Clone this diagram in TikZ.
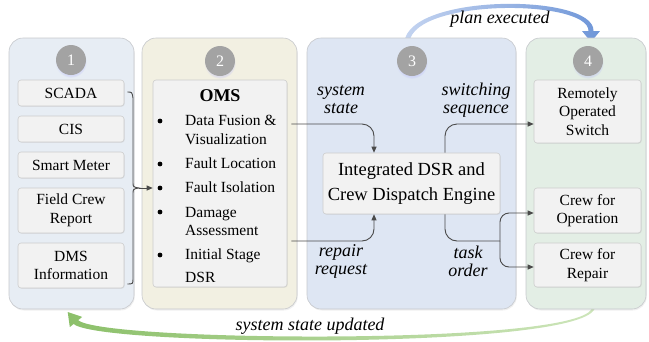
\documentclass[tikz,border=0pt]{standalone}
\usepackage{fontspec}
\setmainfont{Liberation Serif}
\usetikzlibrary{shadows,arrows.meta,calc}

\definecolor{panelline}{HTML}{C6C8CC}
\definecolor{pOne}{HTML}{E7EDF4}
\definecolor{pTwo}{HTML}{F2F0E2}
\definecolor{pThree}{HTML}{DEE6F3}
\definecolor{pFour}{HTML}{E3EEE5}
\definecolor{boxfill}{HTML}{F2F2F2}
\definecolor{boxline}{HTML}{CDCDCD}
\definecolor{numfill}{HTML}{A3A3A3}
\definecolor{connc}{HTML}{4A4A4A}
\definecolor{blueA}{HTML}{C7D6F1}
\definecolor{blueB}{HTML}{6F96D8}
\definecolor{greenA}{HTML}{8CC06A}
\definecolor{greenB}{HTML}{CDE5BA}

\newcommand\bxfont{\fontsize{15.5}{18.5}\selectfont}
\newcommand\lbfont{\fontsize{18}{18}\selectfont\itshape}
\newcommand\nmfont{\fontsize{16}{18}\selectfont}
\newcommand\engfont{\fontsize{18.5}{25}\selectfont}

\begin{document}
\begin{tikzpicture}[x=1pt,y=-1pt,
  panel/.style={draw=panelline, line width=0.6pt, rounded corners=14pt,
    drop shadow={opacity=0.12, shadow xshift=0.8pt, shadow yshift=-1.5pt}},
  bx/.style={draw=boxline, fill=boxfill, line width=0.6pt, rounded corners=3pt,
    align=center, font=\bxfont, inner sep=0pt,
    drop shadow={opacity=0.12, shadow xshift=0.8pt, shadow yshift=-0.8pt}},
  num/.style={circle, fill=numfill, text=white, minimum size=30pt, inner sep=0pt,
    font=\nmfont, circular drop shadow={fill=blue!35, opacity=0.25,
    shadow xshift=0pt, shadow yshift=-2pt, shadow scale=1.05}},
  conn/.style={draw=connc, line width=0.9pt},
  arr/.style={conn, -{Triangle[length=6pt,width=5pt]}},
  lbl/.style={font=\lbfont, align=center}]

\useasboundingbox (0,0) rectangle (649,341);

% upper feedback arrow: plan executed
\shade[left color=blueA, right color=blueB]
  (404.5,47) .. controls (397,-7) and (595,-8) .. (593.5,31)
  -- (600,31) -- (591,42) -- (582,31) -- (588.5,31)
  .. controls (589,-2) and (402,-2) .. (409.5,47) -- cycle;

% lower feedback arrow: system state updated
\shade[left color=greenA, right color=greenB]
  (591.5,309) .. controls (573.5,346) and (99,341.5) .. (78.3,320.1)
  -- (82.2,316.9) -- (67.7,312) -- (69.8,327.1) -- (73.7,323.9)
  .. controls (97,346.5) and (576.5,350) .. (594.5,309) -- cycle;

% the four stage panels
\node[panel, fill=pOne,   minimum width=125pt, minimum height=271pt] (p1) at (71.5,173.5) {};
\node[panel, fill=pTwo,   minimum width=155pt, minimum height=271pt] (p2) at (219.5,173.5) {};
\node[panel, fill=pThree, minimum width=209pt, minimum height=271pt] (p3) at (411.5,173.5) {};
\node[panel, fill=pFour,  minimum width=120pt, minimum height=271pt] (p4) at (586,173.5) {};

% stage numbers
\node[num] (c1) at (71,60) {1};
\node[num] (c2) at (220,61) {2};
\node[num] (c3) at (412,61) {3};
\node[num] (c4) at (588,61) {4};

% data sources
\node[bx, minimum width=106pt, minimum height=26pt] (scada) at (71,93) {SCADA};
\node[bx, minimum width=106pt, minimum height=26pt] (cis) at (71,129) {CIS};
\node[bx, minimum width=106pt, minimum height=26pt] (meter) at (71,165) {Smart Meter};
\node[bx, minimum width=106pt, minimum height=45pt] (crew) at (71,210.5) {Field Crew\\Report};
\node[bx, minimum width=106pt, minimum height=45pt] (dms) at (71,265.5) {DMS\\Information};

% OMS
\node[bx, minimum width=134pt, minimum height=207pt] (oms) at (220,183.5) {};
\node[font=\fontsize{18}{20}\selectfont\bfseries] (omst) at (220,96) {OMS};
\foreach \y in {121,164,188,212,255} \fill (160,\y) circle (2.4pt);
\node[font=\bxfont, align=left, anchor=west, inner sep=0pt] (i1) at (185,130) {Data Fusion \&\\Visualization};
\node[font=\bxfont, align=left, anchor=west, inner sep=0pt] (i2) at (185,163.5) {Fault Location};
\node[font=\bxfont, align=left, anchor=west, inner sep=0pt] (i3) at (185,187.5) {Fault Isolation};
\node[font=\bxfont, align=left, anchor=west, inner sep=0pt] (i4) at (185,221.5) {Damage\\Assessment};
\node[font=\bxfont, align=left, anchor=west, inner sep=0pt] (i5) at (185,266) {Initial Stage\\[4.5pt]DSR};

% engine
\node[bx, font=\engfont, minimum width=177pt, minimum height=61pt] (engine) at (411.5,183.5)
  {Integrated DSR and\\Crew Dispatch Engine};

% field actions
\node[bx, minimum width=107pt, minimum height=63pt] (ros) at (587.5,111.5) {Remotely\\Operated\\Switch};
\node[bx, minimum width=107pt, minimum height=45pt] (crop) at (587.5,210.5) {Crew for\\Operation};
\node[bx, minimum width=107pt, minimum height=44pt] (crrep) at (587.5,265) {Crew for\\Repair};

% brace gathering the data sources
\coordinate (bmid) at (139,188);
\draw[conn] ($(scada.east)+(3,-1)$) .. controls (132,92) .. (133,98) -- (133,182)
  .. controls (133,187) .. (bmid) .. controls (133,189) .. (133,194) -- (133,278)
  .. controls (133,284) .. ($(dms.east)+(3,18.5)$);
\draw[arr] (bmid) -- (bmid -| oms.west);

% OMS to engine
\coordinate (ssout) at ($(oms.east |- 0,124)+(4,0)$);
\coordinate (rrout) at ($(oms.east |- 0,241)+(4,0)$);
\coordinate (ein) at ($(engine.north)+(-37.5,0)$);
\coordinate (ein2) at ($(engine.south)+(-37.5,0)$);
\draw[arr, rounded corners=12pt] (ssout) -| (ein);
\draw[arr, rounded corners=12pt] (rrout) -| (ein2);

% engine to field actions
\coordinate (eout) at ($(engine.north)+(33.5,0)$);
\coordinate (eout2) at ($(engine.south)+(33.5,0)$);
\coordinate (split) at (500,241);
\draw[arr, rounded corners=12pt] (eout) |- (ros.west |- 0,124);
\draw[conn, rounded corners=12pt] (eout2) |- (split);
\draw[arr, rounded corners=9pt] (split) |- (crop.west |- 0,213);
\draw[arr, rounded corners=9pt] (split) |- (crrep.west |- 0,267);

% labels
\node[lbl] (lss) at (341,100) {system\\state};
\node[lbl] (lsw) at (476,100) {switching\\sequence};
\node[lbl] (lrr) at (341,261) {repair\\request};
\node[lbl] (lto) at (468,261) {task\\order};
\node[lbl] (lpe) at (500,19) {plan executed};
\node[lbl] (lsu) at (310,326) {system state updated};

\end{tikzpicture}
\end{document}
